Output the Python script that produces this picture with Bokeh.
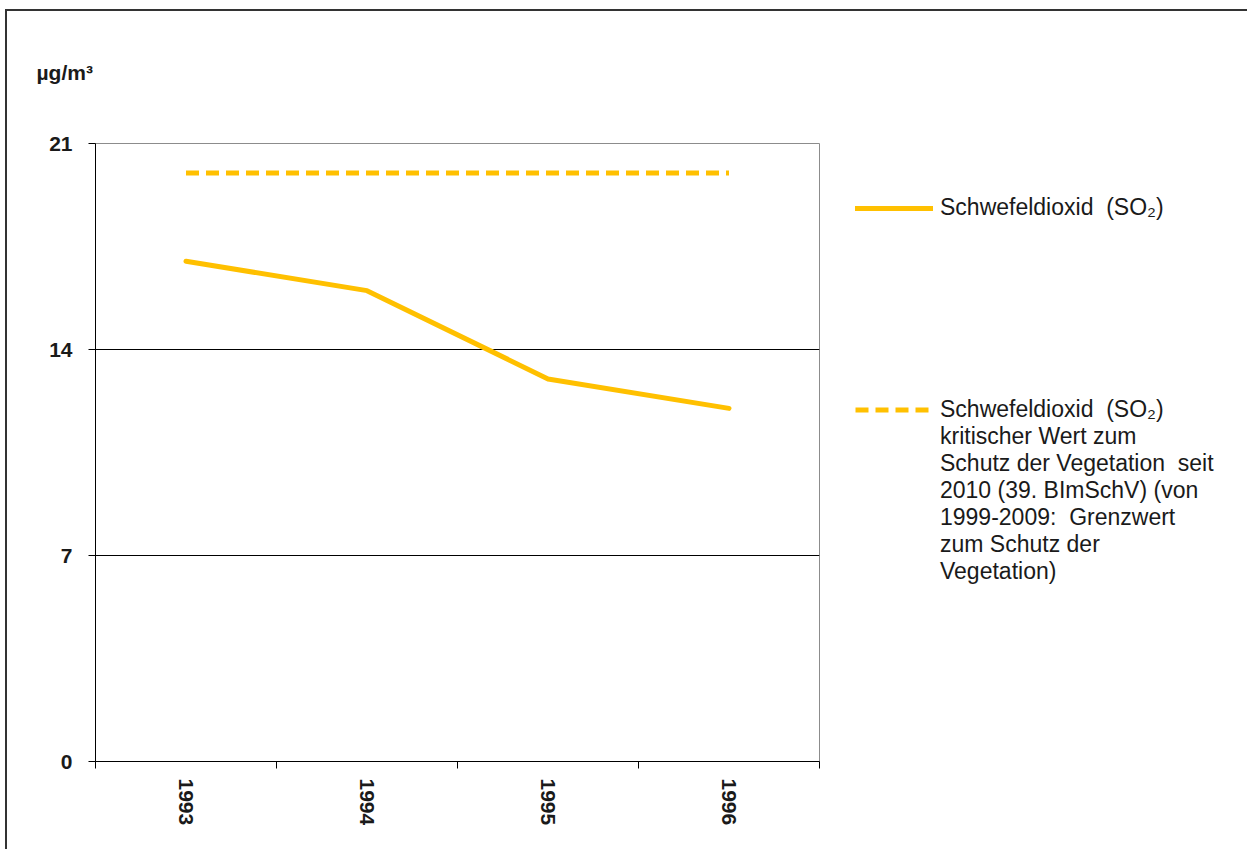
from bokeh.plotting import figure
from bokeh.layouts import row
from bokeh.models import FixedTicker, Legend, LegendItem
from bokeh.embed import file_html
from bokeh.resources import INLINE

# ---- data ----
years = ["1993", "1994", "1995", "1996"]
so2 = [17, 16, 13, 12]
critical = [20, 20, 20, 20]
y_ticks = [0, 7, 14, 21]
grid_ticks = [7, 14]
unit = "µg/m³"
label_so2 = "Schwefeldioxid  (SO₂)"
label_crit = [
    "Schwefeldioxid  (SO₂)",
    "kritischer Wert zum",
    "Schutz der Vegetation  seit",
    "2010 (39. BImSchV) (von",
    "1999-2009:  Grenzwert",
    "zum Schutz der",
    "Vegetation)",
]

xs = list(range(len(years)))
FONT = "Liberation Sans"
GOLD = "#FFC000"
TXT = "#1a1a1a"
H = 840

p = figure(width=814, height=H,
           x_range=(-0.5, len(years) - 0.5), y_range=(0, 21),
           output_backend="svg", toolbar_location=None,
           min_border_left=88, min_border_top=132,
           min_border_right=2, min_border_bottom=90)
p.background_fill_color = "white"
p.border_fill_color = "white"
p.outline_line_color = "#8c8c8c"
p.outline_line_width = 1

# unit label as left-aligned title (blank second line lifts it)
p.title.text = unit + "\n "
p.title.align = "left"
p.title.offset = -59
p.title.standoff = 73
p.title.text_font = FONT
p.title.text_font_style = "bold"
p.title.text_font_size = "21px"
p.title.text_color = TXT

# grid
p.xgrid.visible = False
p.ygrid.ticker = FixedTicker(ticks=grid_ticks)
p.ygrid.grid_line_color = "black"
p.ygrid.grid_line_width = 1

# y axis
p.yaxis.ticker = FixedTicker(ticks=y_ticks)
p.yaxis.axis_line_color = "black"
p.yaxis.major_tick_line_color = "black"
p.yaxis.major_tick_out = 7
p.yaxis.major_tick_in = 0
p.yaxis.minor_tick_line_color = None
p.yaxis.major_label_standoff = 16
p.yaxis.major_label_text_font = FONT
p.yaxis.major_label_text_font_style = "bold"
p.yaxis.major_label_text_font_size = "21px"
p.yaxis.major_label_text_color = TXT

# x axis: labels at category centres, ticks at boundaries
p.xaxis.ticker = FixedTicker(ticks=xs, minor_ticks=[i - 0.5 for i in range(len(years) + 1)])
p.xaxis.major_label_overrides = {i: y for i, y in zip(xs, years)}
p.xaxis.axis_line_color = "black"
p.xaxis.major_tick_line_color = None
p.xaxis.major_tick_out = 0
p.xaxis.major_tick_in = 0
p.xaxis.minor_tick_line_color = "black"
p.xaxis.minor_tick_out = 7
p.xaxis.minor_tick_in = 0
p.xaxis.major_label_orientation = "vertical"
p.xaxis.major_label_standoff = 10
p.xaxis.major_label_text_font = FONT
p.xaxis.major_label_text_font_style = "bold"
p.xaxis.major_label_text_font_size = "21px"
p.xaxis.major_label_text_color = TXT

# lines
p.line(xs, so2, line_color=GOLD, line_width=5, line_cap="round", line_join="round")
p.line(xs, critical, line_color=GOLD, line_width=5, line_dash="13 7")

# ---- legend panel (second canvas; its data lie outside its view) ----
LW = 428
q = figure(width=LW, height=H, x_range=(100, 101), y_range=(100, 101),
           x_axis_type=None, y_axis_type=None,
           output_backend="svg", toolbar_location=None,
           min_border=0)
q.outline_line_color = None
q.background_fill_color = "white"
q.border_fill_color = "white"
q.xgrid.visible = False
q.ygrid.visible = False

s1 = q.line(xs, so2, line_color=GOLD, line_width=5, line_cap="round")
s2 = q.line(xs, critical, line_color=GOLD, line_width=5, line_dash="13 7")
s0 = q.line(xs, so2, line_alpha=0)

common = dict(glyph_width=78, label_standoff=7, padding=0, margin=0, spacing=0,
              border_line_color=None, background_fill_alpha=0,
              label_text_font=FONT, label_text_font_size="23px", label_text_color=TXT)

legend1 = Legend(items=[LegendItem(label=label_so2, renderers=[s1])],
                 location=(34, 540), glyph_height=26, label_height=26, **common)
legend2 = Legend(items=[LegendItem(label=label_crit[0], renderers=[s2])] +
                 [LegendItem(label=t, renderers=[s0]) for t in label_crit[1:]],
                 location=(34, 176), glyph_height=27, label_height=27, **common)
q.add_layout(legend1)
q.add_layout(legend2)

layout = row(p, q, spacing=0, margin=(11, 0, 0, 7))
layout.styles = {"box-shadow": "-2px -2px 0px 0px #333333"}

open("out.html", "w").write(file_html(layout, INLINE))
